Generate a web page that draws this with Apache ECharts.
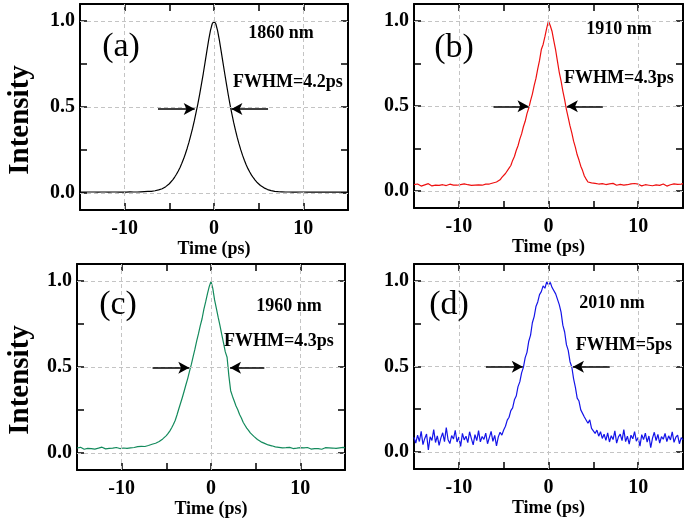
<!DOCTYPE html>
<html>
<head>
<meta charset="utf-8">
<script src="https://cdn.jsdelivr.net/npm/echarts@6/dist/echarts.min.js"></script>
<style>html,body{margin:0;padding:0;background:#fff;}#c{width:685px;height:522px;}</style>
</head>
<body>
<div id="c"></div>
<script>
// ---- data (time grid: -15 ps to 15 ps, step 0.2 ps) ----
const timeStart = -15;
const timeStep = 0.2;

// (a) 1860 nm
const intensityA = [
0.004,0.005,0.004,0.005,0.005,0.004,0.005,0.004,0.005,0.005,
0.004,0.005,0.005,0.004,0.005,0.005,0.004,0.005,0.005,0.004,
0.005,0.005,0.004,0.005,0.005,0.005,0.004,0.005,0.006,0.005,
0.005,0.006,0.005,0.006,0.006,0.006,0.007,0.007,0.008,0.009,
0.009,0.010,0.012,0.014,0.017,0.020,0.024,0.029,0.036,0.044,
0.053,0.064,0.077,0.092,0.108,0.127,0.148,0.172,0.198,0.228,
0.260,0.295,0.335,0.375,0.420,0.470,0.520,0.575,0.635,0.695,
0.760,0.825,0.890,0.945,0.985,1.000,0.985,0.945,0.890,0.825,
0.760,0.695,0.632,0.570,0.512,0.460,0.410,0.365,0.323,0.285,
0.250,0.218,0.190,0.164,0.141,0.121,0.103,0.088,0.074,0.062,
0.052,0.043,0.035,0.029,0.024,0.019,0.016,0.013,0.011,0.009,
0.008,0.007,0.007,0.006,0.006,0.005,0.005,0.005,0.005,0.004,
0.005,0.004,0.005,0.005,0.004,0.005,0.004,0.004,0.005,0.004,
0.004,0.005,0.004,0.004,0.005,0.004,0.004,0.005,0.004,0.004,
0.004,0.004,0.005,0.004,0.004,0.004,0.005,0.004,0.004,0.004,
0.004];

// (b) 1910 nm
const intensityB = [
0.038,0.032,0.041,0.035,0.029,0.040,0.036,0.031,0.043,0.034,
0.030,0.039,0.035,0.042,0.033,0.028,0.037,0.041,0.032,0.036,
0.040,0.031,0.035,0.044,0.034,0.029,0.038,0.036,0.042,0.031,
0.037,0.043,0.033,0.039,0.035,0.045,0.036,0.040,0.034,0.042,
0.040,0.046,0.041,0.049,0.047,0.055,0.053,0.064,0.066,0.080,
0.086,0.103,0.112,0.135,0.150,0.180,0.203,0.238,0.266,0.305,
0.336,0.378,0.410,0.455,0.488,0.532,0.570,0.620,0.662,0.718,
0.768,0.832,0.862,0.908,0.958,1.000,0.972,0.938,0.882,0.828,
0.762,0.698,0.648,0.588,0.537,0.478,0.432,0.383,0.342,0.293,
0.257,0.213,0.182,0.146,0.120,0.088,0.070,0.053,0.056,0.048,
0.052,0.045,0.049,0.041,0.047,0.043,0.050,0.038,0.046,0.042,
0.036,0.045,0.040,0.034,0.043,0.039,0.046,0.035,0.041,0.037,
0.032,0.042,0.038,0.044,0.033,0.040,0.036,0.030,0.041,0.037,
0.043,0.034,0.039,0.031,0.040,0.036,0.044,0.033,0.038,0.041,
0.035,0.029,0.040,0.037,0.033,0.042,0.036,0.039,0.045,0.040,
0.043];

// (c) 1960 nm
const intensityC = [
0.028,0.024,0.032,0.027,0.021,0.030,0.026,0.033,0.025,0.029,
0.022,0.031,0.027,0.024,0.033,0.028,0.023,0.030,0.026,0.032,
0.027,0.023,0.031,0.029,0.025,0.034,0.028,0.030,0.026,0.033,
0.029,0.035,0.031,0.027,0.036,0.032,0.038,0.034,0.037,0.041,
0.043,0.047,0.050,0.049,0.056,0.061,0.066,0.072,0.081,0.089,
0.100,0.113,0.128,0.146,0.166,0.190,0.222,0.257,0.290,0.324,
0.360,0.398,0.434,0.476,0.515,0.561,0.604,0.652,0.694,0.741,
0.781,0.836,0.879,0.926,0.968,0.998,0.958,0.891,0.842,0.790,
0.742,0.690,0.641,0.588,0.557,0.448,0.362,0.330,0.302,0.273,
0.251,0.223,0.203,0.178,0.161,0.144,0.131,0.116,0.108,0.096,
0.087,0.078,0.071,0.064,0.059,0.055,0.050,0.046,0.044,0.041,
0.038,0.035,0.037,0.032,0.034,0.029,0.033,0.030,0.027,0.032,
0.028,0.025,0.031,0.027,0.023,0.030,0.026,0.029,0.024,0.031,
0.026,0.022,0.029,0.025,0.031,0.024,0.028,0.021,0.027,0.030,
0.025,0.029,0.023,0.028,0.031,0.026,0.022,0.029,0.027,0.032,
0.028];

// (d) 2010 nm
const intensityD = [
0.085,0.052,0.098,0.061,0.120,0.043,0.079,0.105,0.012,0.088,
0.067,0.131,0.055,0.094,0.038,0.082,0.112,0.060,0.143,0.071,
0.049,0.096,0.075,0.126,0.058,0.087,0.032,0.109,0.070,0.092,
0.054,0.118,0.078,0.041,0.101,0.066,0.125,0.059,0.090,0.073,
0.110,0.048,0.084,0.120,0.062,0.097,0.035,0.088,0.115,0.098,
0.128,0.150,0.186,0.203,0.242,0.258,0.305,0.327,0.382,0.410,
0.463,0.495,0.552,0.583,0.648,0.684,0.756,0.792,0.851,0.878,
0.921,0.938,0.972,0.958,0.995,0.978,0.992,0.962,0.968,0.925,
0.918,0.862,0.818,0.742,0.702,0.628,0.594,0.528,0.497,0.428,
0.378,0.315,0.298,0.246,0.238,0.204,0.212,0.168,0.188,0.138,
0.142,0.108,0.128,0.092,0.118,0.079,0.104,0.068,0.112,0.058,
0.095,0.072,0.123,0.051,0.088,0.104,0.066,0.130,0.060,0.092,
0.045,0.098,0.077,0.119,0.063,0.085,0.034,0.101,0.072,0.110,
0.058,0.093,0.025,0.081,0.115,0.066,0.102,0.052,0.089,0.074,
0.108,0.061,0.094,0.070,0.117,0.056,0.086,0.099,0.048,0.083,
0.072];

// FWHM arrows [leftStart, leftTip, rightStart, rightTip, y]
const arrowsA = [-6.27, -2.16, 6.05, 1.95, 0.488];
const arrowsB = [-6.13, -2.23, 6.06, 2.05, 0.498];
const arrowsC = [-6.54, -2.43, 5.97, 2.13, 0.496];
const arrowsD = [-6.98, -2.87, 6.83, 2.73, 0.499];

const panelLetters = ['(a)', '(b)', '(c)', '(d)'];
const wavelengths = ['1860 nm', '1910 nm', '1960 nm', '2010 nm'];
const fwhmLabels = ['FWHM=4.2ps', 'FWHM=4.3ps', 'FWHM=4.3ps', 'FWHM=5ps'];
const xTicks = [-10, -5, 0, 5, 10];
const xTickLabels = [-10, 0, 10];
const yTicks = [0, 0.25, 0.5, 0.75, 1.0];
const yTickLabels = [0, 0.5, 1.0];
const xGridLines = [-10, 0, 10];
const yGridLines = [0, 0.5, 1.0];
const xName = 'Time (ps)';
const yName = 'Intensity';

// ---- layout / styles ----
const seriesValues = [intensityA, intensityB, intensityC, intensityD];
const arrowSets = [arrowsA, arrowsB, arrowsC, arrowsD];
const colors = ['#000000', '#ee1010', '#138a5c', '#1414e8'];
const grids = [
  {left: 80, top: 4, width: 268, height: 206},
  {left: 414, top: 4, width: 269, height: 204},
  {left: 77, top: 264, width: 268, height: 206},
  {left: 414, top: 264, width: 269, height: 205}
];
const textPos = [
  {letter: [121, 47], wl: [281, 33], fw: [288, 82]},
  {letter: [454, 48], wl: [619, 29], fw: [619, 78]},
  {letter: [118, 305], wl: [289, 306], fw: [279, 341]},
  {letter: [449, 305], wl: [612, 303], fw: [624, 345]}
];
const FONT = '"Liberation Serif","Times New Roman",serif';

const xAxes = [], yAxes = [], series = [], graphics = [];
const axisLine = {onZero: false, lineStyle: {color: '#000', width: 2}};
grids.forEach((g, i) => {
  xAxes.push({
    type: 'value', gridIndex: i, min: -15, max: 15, position: 'bottom',
    axisLine,
    axisTick: {inside: true, length: 7, customValues: xTicks, lineStyle: {color: '#000', width: 1.5}},
    axisLabel: {customValues: xTickLabels, margin: 9, color: '#000', fontFamily: FONT, fontWeight: 'bold', fontSize: 20},
    splitLine: {show: false},
    name: xName, nameLocation: 'middle', nameGap: 27,
    nameTextStyle: {color: '#000', fontFamily: FONT, fontWeight: 'bold', fontSize: 18}
  });
  xAxes.push({
    type: 'value', gridIndex: i, min: -15, max: 15, position: 'top',
    axisLine,
    axisTick: {inside: true, length: 7, customValues: xTicks, lineStyle: {color: '#000', width: 1.5}},
    axisLabel: {show: false}, splitLine: {show: false}
  });
  yAxes.push({
    type: 'value', gridIndex: i, min: -0.1, max: 1.1, position: 'left',
    axisLine,
    axisTick: {inside: true, length: 7, customValues: yTicks, lineStyle: {color: '#000', width: 1.5}},
    axisLabel: {customValues: yTickLabels, margin: 5, color: '#000', fontFamily: FONT, fontWeight: 'bold', fontSize: 20,
      formatter: v => v.toFixed(1)},
    splitLine: {show: false}
  });
  yAxes.push({
    type: 'value', gridIndex: i, min: -0.1, max: 1.1, position: 'right',
    axisLine,
    axisTick: {inside: true, length: 7, customValues: yTicks, lineStyle: {color: '#000', width: 1.5}},
    axisLabel: {show: false}, splitLine: {show: false}
  });
  // dashed grid lines
  series.push({
    type: 'line', xAxisIndex: 2 * i, yAxisIndex: 2 * i, data: [], z: 1, silent: true,
    markLine: {
      silent: true, symbol: ['none', 'none'], label: {show: false}, animation: false,
      lineStyle: {color: '#c4c4c4', type: [4, 3], width: 1},
      data: xGridLines.map(v => ({xAxis: v})).concat(yGridLines.map(v => ({yAxis: v})))
    }
  });
  // pulse curve
  const vals = seriesValues[i];
  const a = arrowSets[i];
  series.push({
    type: 'line', xAxisIndex: 2 * i, yAxisIndex: 2 * i, z: 3,
    showSymbol: false, symbol: 'none', sampling: null, smooth: false,
    lineStyle: {color: colors[i], width: 1.2},
    data: vals.map((v, k) => [+(timeStart + k * timeStep).toFixed(2), v]),
    markLine: {
      silent: true, symbol: ['none', 'arrow'], symbolSize: [9, 11], label: {show: false}, animation: false,
      lineStyle: {color: '#000', type: 'solid', width: 1.5},
      data: [
        [{coord: [a[0], a[4]]}, {coord: [a[1], a[4]]}],
        [{coord: [a[2], a[4]]}, {coord: [a[3], a[4]]}]
      ]
    }
  });
  const tp = textPos[i];
  graphics.push({type: 'text', x: tp.letter[0], y: tp.letter[1], z: 10,
    style: {text: panelLetters[i], fill: '#000', font: '34px ' + FONT, textAlign: 'center', textVerticalAlign: 'middle', align: 'center', verticalAlign: 'middle'}});
  graphics.push({type: 'text', x: tp.wl[0], y: tp.wl[1], z: 10,
    style: {text: wavelengths[i], fill: '#000', font: 'bold 18px ' + FONT, textAlign: 'center', textVerticalAlign: 'middle', align: 'center', verticalAlign: 'middle'}});
  graphics.push({type: 'text', x: tp.fw[0], y: tp.fw[1], z: 10,
    style: {text: fwhmLabels[i], fill: '#000', font: 'bold 18px ' + FONT, textAlign: 'center', textVerticalAlign: 'middle', align: 'center', verticalAlign: 'middle'}});
});
[120, 380].forEach(yc => {
  graphics.push({type: 'text', x: 21, y: yc, rotation: Math.PI / 2, z: 10,
    style: {text: yName, fill: '#000', font: 'bold 29px ' + FONT, textAlign: 'center', textVerticalAlign: 'middle', align: 'center', verticalAlign: 'middle'}});
});

const chart = echarts.init(document.getElementById('c'), null, {renderer: 'canvas'});
chart.setOption({
  animation: false,
  backgroundColor: '#fff',
  grid: grids.map(g => Object.assign({containLabel: false}, g)),
  xAxis: xAxes,
  yAxis: yAxes,
  series: series,
  graphic: graphics
});
</script>
</body>
</html>
